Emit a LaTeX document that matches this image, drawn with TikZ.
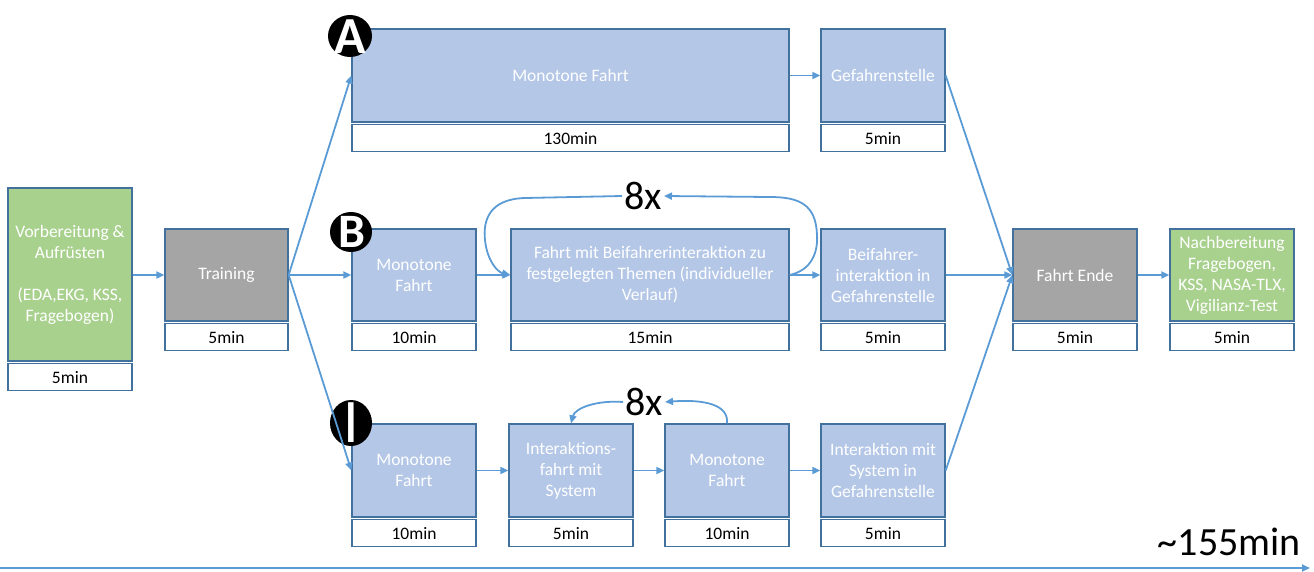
\documentclass[tikz,border=0pt]{standalone}
\usepackage{fontspec}
\setmainfont{Carlito}
\usetikzlibrary{arrows.meta,positioning}

\definecolor{boxblue}{HTML}{B4C7E7}
\definecolor{boxline}{HTML}{41719C}
\definecolor{boxgray}{HTML}{A5A5A5}
\definecolor{boxgreen}{HTML}{A9D18E}
\definecolor{flowblue}{HTML}{5B9BD5}

\newcommand\stagefont{\fontsize{17.5}{21}\selectfont}
\newcommand\bigfont{\fontsize{40}{40}\selectfont}

% stage box with its duration box underneath
% #1 name, #2 style, #3 cx, #4 cy, #5 width, #6 height, #7 text, #8 duration
\newcommand\stagenode[8]{%
  \node[#2, minimum width=#5pt, minimum height=#6pt] (#1) at (#3,#4) {#7};
  \node[timebox, minimum width=#5pt, below=1.5pt of #1] (#1t) {#8};
}

\begin{document}
\begin{tikzpicture}[x=1pt,y=-1pt,
  stagebox/.style={draw=boxline, line width=1.3pt, align=center, text=white,
    font=\stagefont, inner sep=2pt},
  bluebox/.style={stagebox, fill=boxblue},
  graybox/.style={stagebox, fill=boxgray},
  greenbox/.style={stagebox, fill=boxgreen},
  timebox/.style={draw=boxline, line width=1.3pt, fill=white, text=black,
    font=\stagefont, inner sep=0pt, minimum height=27pt},
  flow/.style={draw=flowblue, line width=1.8pt,
    -{Triangle[length=8pt,width=7pt]}},
  badgeletter/.style={text=white, inner sep=0pt},
  repeatlabel/.style={font=\bigfont, inner sep=2pt}
]
\useasboundingbox (0,0) rectangle (1314,571);

% preparation and training
\stagenode{prep}{greenbox}{70}{274.5}{124}{173}{Vorbereitung \&\\Aufrüsten\\[21pt](EDA,EKG, KSS,\\Fragebogen)}{5min}
\stagenode{train}{graybox}{226.5}{275}{123}{92}{Training}{5min}

% condition A
\stagenode{amono}{bluebox}{570.5}{75.5}{437}{93}{Monotone Fahrt}{130min}
\stagenode{agef}{bluebox}{883}{75.5}{124}{93}{Gefahrenstelle}{5min}

% condition B
\stagenode{bmono}{bluebox}{414}{275}{124}{92}{Monotone\\Fahrt}{10min}
\stagenode{bdrive}{bluebox}{650}{275}{278}{92}{Fahrt mit Beifahrerinteraktion zu\\festgelegten Themen (individueller\\Verlauf)}{15min}
\stagenode{bgef}{bluebox}{883}{275}{124}{92}{Beifahrer-\\interaktion in\\Gefahrenstelle}{5min}

% condition I
\stagenode{imono}{bluebox}{414}{470.5}{124}{93}{Monotone\\Fahrt}{10min}
\stagenode{isys}{bluebox}{571}{470.5}{124}{93}{Interaktions-\\fahrt mit\\System}{5min}
\stagenode{imono2}{bluebox}{727}{470.5}{124}{93}{Monotone\\Fahrt}{10min}
\stagenode{igef}{bluebox}{883}{470.5}{124}{93}{Interaktion mit\\System in\\Gefahrenstelle}{5min}

% end of drive and follow-up
\stagenode{fend}{graybox}{1075}{275}{124}{92}{Fahrt Ende}{5min}
\stagenode{post}{greenbox}{1232}{275}{124}{92}{Nachbereitung\\Fragebogen,\\KSS, NASA-TLX,\\Vigilianz-Test}{5min}

% condition badges
\fill (350,36) ellipse [x radius=22, y radius=21];
\node[badgeletter, font=\fontsize{52}{52}\selectfont\bfseries] (badgeA) at (350,37) {A};
\fill (351,232) ellipse [x radius=21, y radius=20];
\node[badgeletter, font=\fontsize{48}{48}\selectfont\bfseries] (badgeB) at (352,232) {B};
\fill (351,423) ellipse [x radius=21, y radius=23];
\node[badgeletter, font=\fontsize{62}{62}\selectfont] (badgeI) at (351,423) {I};

% main flow
\draw[flow] (prep.east |- train.west) -- (train.west);
\draw[flow] (train.east) -- (amono.west);
\draw[flow] (train.east) -- (bmono.west);
\draw[flow] (train.east) -- (imono.west);
\draw[flow] (amono.east) -- (agef.west);
\draw[flow] (bmono.east) -- (bdrive.west);
\draw[flow] (bdrive.east) -- (bgef.west);
\draw[flow] (imono.east) -- (isys.west);
\draw[flow] (isys.east) -- (imono2.west);
\draw[flow] (imono2.east) -- (igef.west);
\draw[flow] (agef.east) -- (fend.west);
\draw[flow] (bgef.east) -- (fend.west);
\draw[flow] (igef.east) -- (fend.west);
\draw[flow] (fend.east) -- (post.west);

% repetition loop of condition B
\node[repeatlabel] (repB) at (643,196) {8x};
\draw[flow] (bdrive.east) .. controls (812,270) and (818,252) .. (817,235)
  .. controls (816,205) and (800,197) .. (770,197) -- (repB.east);
\draw[flow] (repB.west) -- (525,198) .. controls (488,199) and (483,222) .. (485,240)
  .. controls (487,260) and (497,272) .. (bdrive.west);

% repetition loop of condition I
\node[repeatlabel] (repI) at (644,402) {8x};
\draw[flow] (imono2.north) .. controls (729,405) and (705,399) .. (repI.east);
\draw[flow] (repI.west) .. controls (597,400) and (575,408) .. (isys.north);

% overall duration
\node[font=\bigfont, anchor=base east, inner sep=0pt] (total) at (1301,555) {\textasciitilde155min};
\coordinate (tlstart) at (0,568);
\coordinate (tlend) at (1310,568);
\draw[flow] (tlstart) -- (tlend);
\end{tikzpicture}
\end{document}
